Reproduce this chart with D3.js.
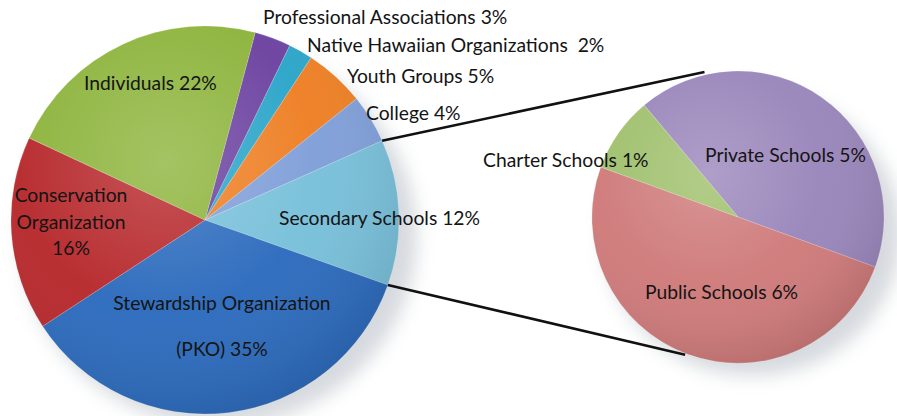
<!DOCTYPE html>
<html>
<head>
<meta charset="utf-8">
<script src="https://cdn.jsdelivr.net/npm/d3@7"></script>
<style>
  body { margin: 0; background: #fff; }
  text { font-family: Lato, "Open Sans", sans-serif; fill: #141414; white-space: pre; }
</style>
</head>
<body>
<div id="chart"></div>
<script>
/* Pie of pie: audience groups, with Secondary Schools broken out */

const mainCats = ["Professional Associations", "Native Hawaiian Organizations ", "Youth Groups", "College",
                  "Secondary Schools", "Stewardship Organization (PKO)", "Conservation Organization", "Individuals"];
const mainVals = [3, 2, 5, 4, 12, 35, 16, 22];

const schoolCats = ["Private Schools", "Public Schools", "Charter Schools"];
const schoolVals = [5, 6, 1];

const mainColors = ["#6c42a0", "#2ba5c9", "#ee7f24", "#809fd9", "#78c0da", "#2c6bbd", "#b7292c", "#8db43c"];
const schoolColors = ["#9a86bb", "#cf7a7a", "#9fc06c"];

const width = 897, height = 416;

// layout (not data): pie geometry and label anchors
const mainPie = { cx: 205, cy: 220, r: 194, start: 15 };
const schoolPie = { cx: 738, cy: 217, r: 146, start: -40 };

const mainLabels = [
  { x: 263, y: 24, anchor: "start" },
  { x: 307, y: 52, anchor: "start" },
  { x: 347, y: 83, anchor: "start" },
  { x: 366, y: 120, anchor: "start" },
  { x: 279, y: 225, anchor: "start" },
  { split: ["Stewardship Organization", "(PKO) "], x: 222, y: 310, dy: 46, anchor: "middle" },
  { split: ["Conservation", "Organization", ""], x: 71, y: 202, dy: 26.5, anchor: "middle" },
  { x: 84, y: 90, anchor: "start" }
];
const schoolLabels = [
  { x: 705, y: 162 },
  { x: 645, y: 299 },
  { x: 483, y: 167 }
];

const rad = a => a * Math.PI / 180;

const svg = d3.select("#chart")
    .append("svg")
    .attr("width", width)
    .attr("height", height);

const defs = svg.append("defs");

defs.append("filter").attr("id", "blur")
    .attr("x", "-30%").attr("y", "-30%").attr("width", "160%").attr("height", "160%")
    .append("feGaussianBlur").attr("stdDeviation", 9);

const sheen = defs.append("radialGradient")
    .attr("id", "sheen")
    .attr("cx", "40%").attr("cy", "35%").attr("r", "70%");
sheen.append("stop").attr("offset", "0%").attr("stop-color", "#fff").attr("stop-opacity", 0.2);
sheen.append("stop").attr("offset", "55%").attr("stop-color", "#fff").attr("stop-opacity", 0.03);
sheen.append("stop").attr("offset", "100%").attr("stop-color", "#000").attr("stop-opacity", 0.12);

function drawPie(cfg, vals, colors) {
    const pie = d3.pie()
        .sort(null)
        .startAngle(rad(cfg.start))
        .endAngle(rad(cfg.start + 360));

    const arc = d3.arc().innerRadius(0).outerRadius(cfg.r);

    const g = svg.append("g")
        .attr("transform", `translate(${cfg.cx}, ${cfg.cy})`);

    // soft drop shadow
    g.append("ellipse")
        .attr("cx", 14)
        .attr("cy", 16)
        .attr("rx", cfg.r * 1.02)
        .attr("ry", cfg.r * 0.98)
        .attr("fill", "#9aa3ad")
        .attr("opacity", 0.4)
        .attr("filter", "url(#blur)");

    const arcs = pie(vals);

    g.selectAll(".slice")
        .data(arcs)
        .join("path")
        .attr("class", "slice")
        .attr("d", arc)
        .attr("fill", (d, i) => colors[i])
        .attr("stroke", "rgba(255,255,255,0.3)")
        .attr("stroke-width", 0.6);

    g.append("circle")
        .attr("r", cfg.r)
        .attr("fill", "url(#sheen)");

    return arcs;
}

const mainArcs = drawPie(mainPie, mainVals, mainColors);
drawPie(schoolPie, schoolVals, schoolColors);

// connector lines from the Secondary Schools slice to the breakout pie
const sec = mainArcs[mainCats.indexOf("Secondary Schools")];
const onCircle = (cfg, a, k) => [cfg.cx + cfg.r * k * Math.sin(a), cfg.cy - cfg.r * k * Math.cos(a)];
const links = [
    [onCircle(mainPie, sec.startAngle, 1.0), onCircle(schoolPie, rad(-13), 1.02)],
    [onCircle(mainPie, sec.endAngle, 1.0), onCircle(schoolPie, rad(201), 1.01)]
];
svg.selectAll(".link")
    .data(links)
    .join("line")
    .attr("class", "link")
    .attr("x1", d => d[0][0]).attr("y1", d => d[0][1])
    .attr("x2", d => d[1][0]).attr("y2", d => d[1][1])
    .attr("stroke", "#111")
    .attr("stroke-width", 2.6);

// labels
const fontSize = 19.3;
mainLabels.forEach((L, i) => {
    const pct = mainVals[i] + "%";
    const lines = L.split ? L.split.map((s, j, arr) => j === arr.length - 1 ? s + pct : s)
                          : [mainCats[i] + " " + pct];
    const t = svg.append("text")
        .attr("x", L.x)
        .attr("y", L.y)
        .attr("text-anchor", L.anchor)
        .style("font-size", fontSize + "px");
    lines.forEach((s, j) => {
        t.append("tspan")
            .attr("x", L.x)
            .attr("y", L.y + j * (L.dy || 0))
            .text(s);
    });
});

schoolLabels.forEach((L, i) => {
    svg.append("text")
        .attr("x", L.x)
        .attr("y", L.y)
        .style("font-size", fontSize + "px")
        .text(schoolCats[i] + " " + schoolVals[i] + "%");
});
</script>
</body>
</html>
